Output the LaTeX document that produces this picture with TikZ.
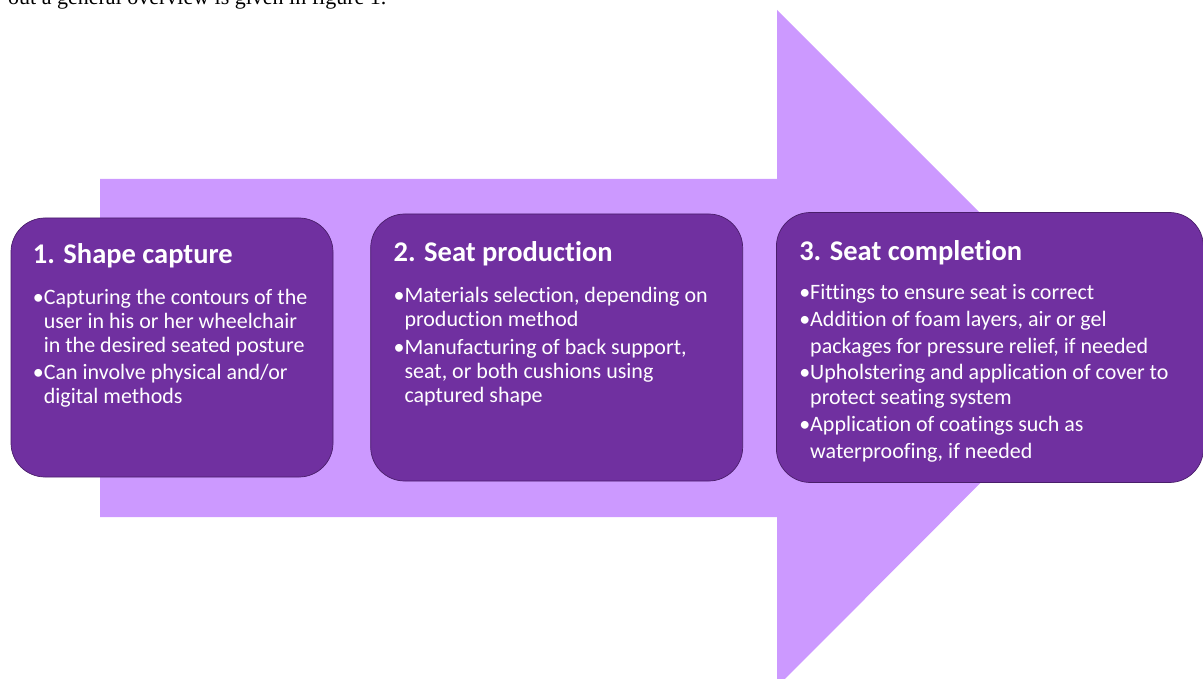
\documentclass[tikz,border=0pt]{standalone}
\usepackage{fontspec}
\setmainfont{Liberation Serif}
\newfontfamily\stepfont[Ligatures=NoCommon]{Carlito}
\usetikzlibrary{positioning}
\definecolor{arrowlilac}{HTML}{CC99FF}
\definecolor{steppurple}{HTML}{7030A0}
\definecolor{stepedge}{HTML}{4A1E6B}
\newcommand{\cont}{\hphantom{•}}
\newcommand{\steptitle}[1]{{\fontsize{28.5}{32}\selectfont\bfseries #1}}

\begin{document}
\begin{tikzpicture}[x=1pt,y=-1pt,node distance=37pt,
        stepbox/.style={rectangle,rounded corners=34pt,fill=steppurple,draw=stepedge,line width=0.7pt,inner sep=0pt},
        steptext/.style={inner sep=0pt,align=left,text=white,font=\stepfont\fontsize{22}{24}\selectfont}]
        \useasboundingbox (0,0) rectangle (1203,679);

        \node[anchor=base west,font=\fontsize{22}{26}\selectfont,inner sep=0pt] (intro) at (8,5) {out a general overview is given in figure 1.};

        \fill[arrowlilac] (100,179) -- (777,179) -- (777,10) -- (1115,348) -- (777,687) -- (777,517) -- (100,517) -- cycle;

        \node[stepbox,minimum width=322pt,minimum height=259pt] (capture) at (172,347.5) {};
        \node[stepbox,minimum width=372pt,minimum height=267pt] (production) [right=37pt of capture] {};
        \node[stepbox,minimum width=427pt,minimum height=270pt] (completion) [right=33pt of production] {};

        \node[steptext] (capturetxt) [below right=26pt and 22pt of capture.north west]
        {\steptitle{1. Shape capture}\\[17pt]
        •Capturing the contours of the\\
        \cont user in his or her wheelchair\\
        \cont in the desired seated posture\\[3pt]
        •Can involve physical and/or\\
        \cont digital methods};

        \node[steptext] (productiontxt) [below right=28pt and 23pt of production.north west]
        {\steptitle{2. Seat production}\\[17pt]
        •Materials selection, depending on\\
        \cont production method\\[4pt]
        •Manufacturing of back support,\\
        \cont seat, or both cushions using\\
        \cont captured shape};

        \node[steptext] (completiontxt) [below right=28pt and 23pt of completion.north west]
        {\steptitle{3. Seat completion}\\[15pt]
        •Fittings to ensure seat is correct\\[3pt]
        •Addition of foam layers, air or gel\\[3pt]
        \cont packages for pressure relief, if needed\\[2pt]
        •Upholstering and application of cover to\\[1pt]
        \cont protect seating system\\[3pt]
        •Application of coatings such as\\[3pt]
        \cont waterproofing, if needed};
\end{tikzpicture}
\end{document}
